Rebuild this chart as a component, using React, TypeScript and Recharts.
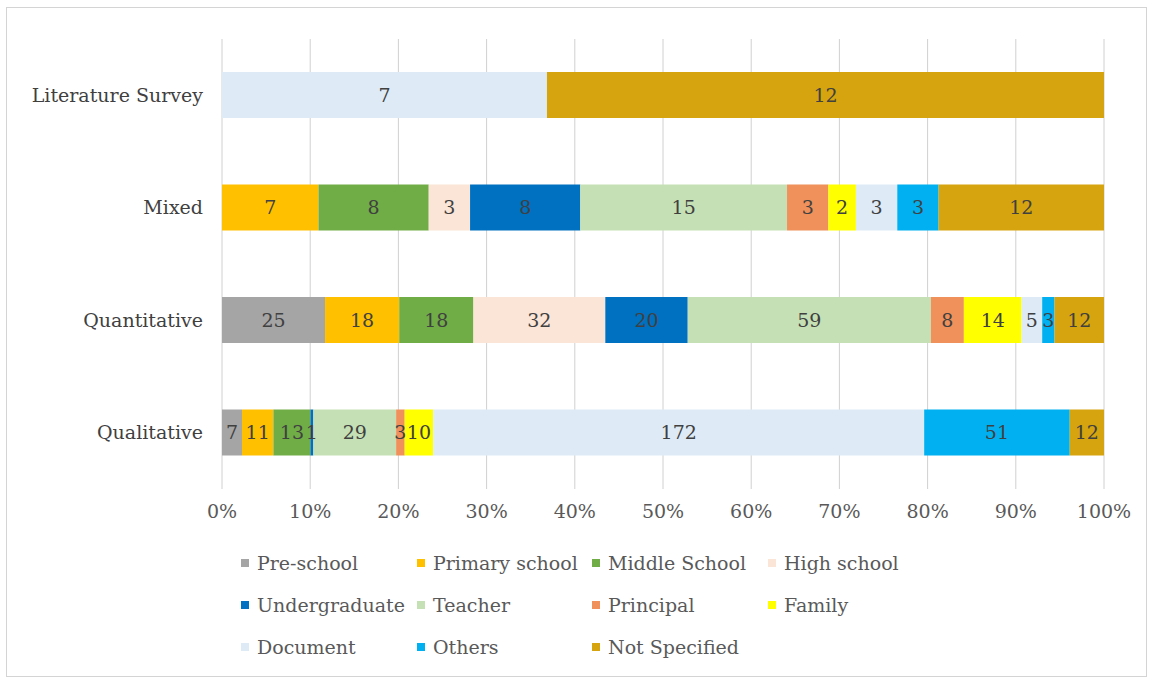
import React from 'react';
import { BarChart, Bar, XAxis, YAxis, CartesianGrid, LabelList } from 'recharts';

const categories = ['Literature Survey', 'Mixed', 'Quantitative', 'Qualitative'];
const seriesNames = ['Pre-school', 'Primary school', 'Middle School', 'High school', 'Undergraduate', 'Teacher', 'Principal', 'Family', 'Document', 'Others', 'Not Specified'];
const seriesColors = ['#A5A5A5', '#FFC000', '#70AD47', '#FBE5D6', '#0070C0', '#C5E0B4', '#F0905A', '#FFFF00', '#DEEBF7', '#00B0F0', '#D6A40E'];

const preSchool = [0, 0, 25, 7];
const primarySchool = [0, 7, 18, 11];
const middleSchool = [0, 8, 18, 13];
const highSchool = [0, 3, 32, 0];
const undergraduate = [0, 8, 20, 1];
const teacher = [0, 15, 59, 29];
const principal = [0, 3, 8, 3];
const family = [0, 2, 14, 10];
const documentVals = [7, 3, 5, 172];
const others = [0, 3, 3, 51];
const notSpecified = [12, 12, 12, 12];

const seriesValues = [preSchool, primarySchool, middleSchool, highSchool, undergraduate, teacher, principal, family, documentVals, others, notSpecified];
const xTicks = [0, 0.1, 0.2, 0.3, 0.4, 0.5, 0.6, 0.7, 0.8, 0.9, 1];

const data = categories.map((c, i) => {
  const row: any = { name: c };
  seriesNames.forEach((s, j) => { row[s] = seriesValues[j][i]; });
  return row;
});

const FONT = '"DejaVu Serif", serif';

const legendCols = [241, 417, 592, 768];
const legendRows = [563, 605, 647];

export default function App() {
  return (
    <div style={{ position: 'absolute', left: 0, top: 0, width: 1154, height: 680, background: '#fff', fontFamily: FONT }}>
      <div style={{ position: 'absolute', left: 6, top: 7, width: 1141, height: 670, border: '1.5px solid #D4D4D4', boxSizing: 'border-box' }} />
      <div style={{ position: 'absolute', left: 0, top: 0 }}>
        <BarChart
          width={1154}
          height={530}
          data={data}
          layout="vertical"
          stackOffset="expand"
          margin={{ top: 39, right: 50, bottom: 0, left: 10 }}
          style={{ fontFamily: FONT }}
        >
          <CartesianGrid horizontal={false} stroke="#D0D0D0" />
          <XAxis
            type="number"
            domain={[0, 1]}
            ticks={xTicks}
            tickFormatter={(v: number) => `${Math.round(v * 100)}%`}
            axisLine={false}
            tickLine={false}
            tickSize={0}
            tickMargin={16}
            height={41}
            interval={0}
            tick={{ fill: '#595959', fontSize: 19, fontFamily: FONT }}
          />
          <YAxis
            type="category"
            dataKey="name"
            width={212}
            axisLine={false}
            tickLine={false}
            tickSize={0}
            tickMargin={19}
            tick={{ fill: '#404040', fontSize: 19, fontFamily: FONT }}
          />
          {seriesNames.map((s, j) => (
            <Bar key={s} dataKey={s} stackId="a" fill={seriesColors[j]} barSize={46} isAnimationActive={false}>
              <LabelList
                dataKey={s}
                position="center"
                formatter={(v: any) => (v ? v : '')}
                style={{ fill: '#404040', fontSize: 19, fontFamily: FONT }}
              />
            </Bar>
          ))}
        </BarChart>
      </div>
      {seriesNames.map((s, j) => {
        const col = j % 4;
        const row = Math.floor(j / 4);
        const x = legendCols[col];
        const y = legendRows[row];
        return (
          <div key={s} style={{ position: 'absolute', left: x, top: y - 12, height: 24, display: 'flex', alignItems: 'center', whiteSpace: 'nowrap' }}>
            <div style={{ width: 8, height: 8, background: seriesColors[j], marginRight: 8 }} />
            <span style={{ fontSize: 19, color: '#595959', fontFamily: FONT }}>{s}</span>
          </div>
        );
      })}
    </div>
  );
}
